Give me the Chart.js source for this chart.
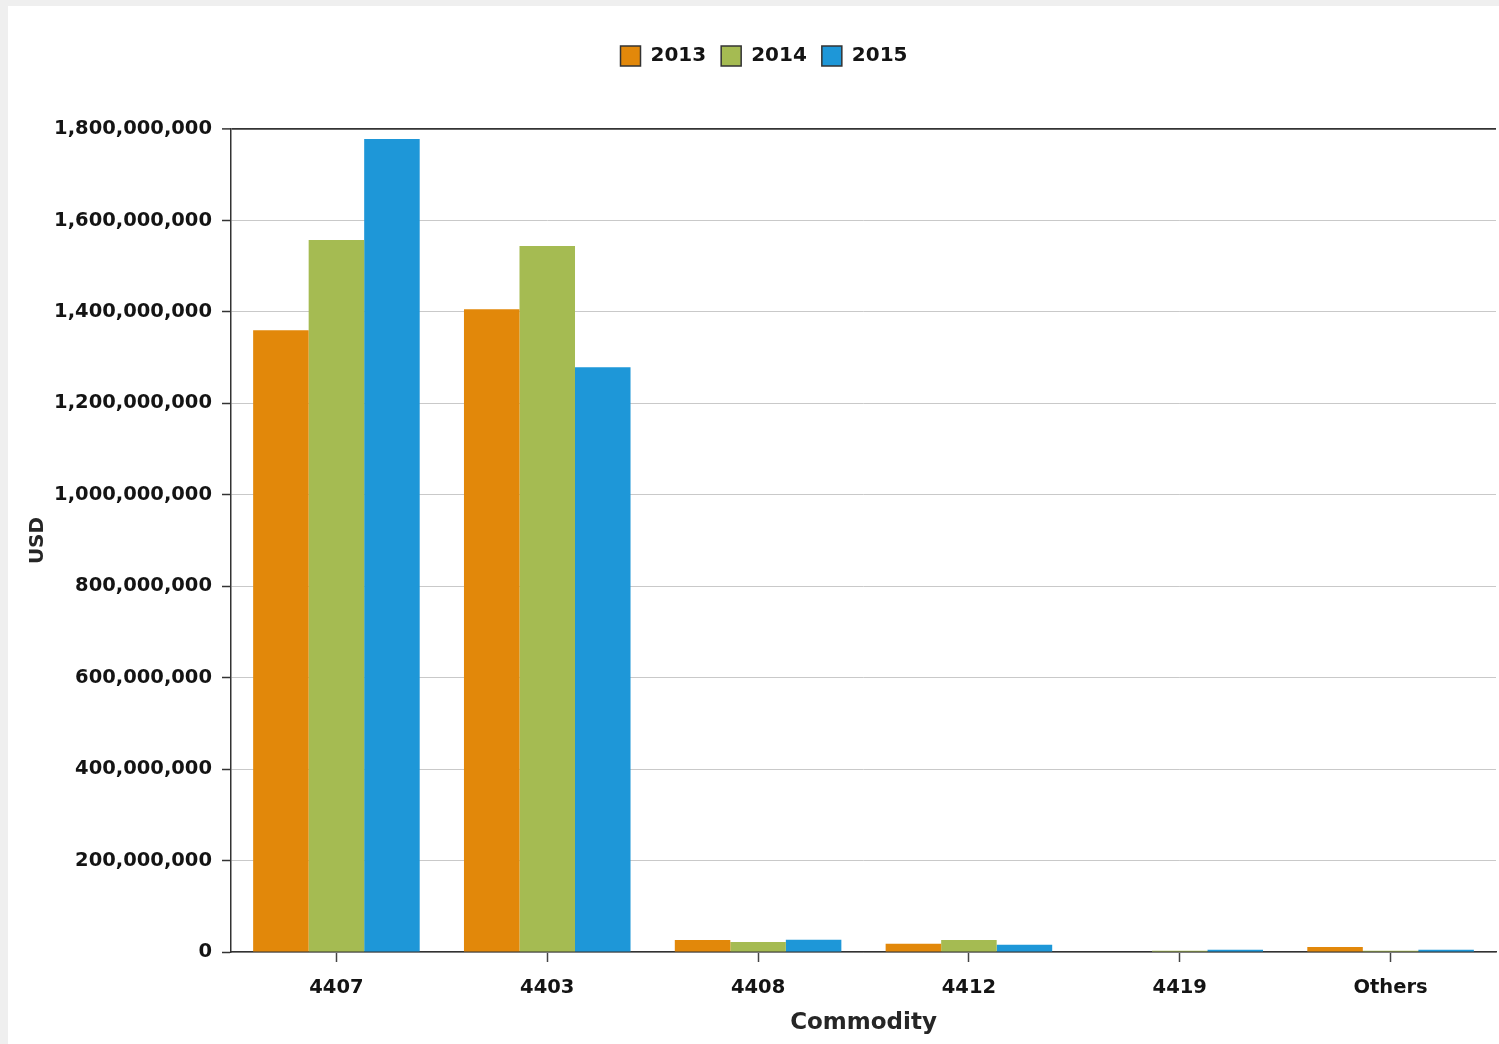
<!DOCTYPE html>
<html>
<head>
<meta charset="utf-8">
<title>Commodity exports, USD</title>
<script src="https://cdn.jsdelivr.net/npm/chart.js@4/dist/chart.umd.min.js"></script>
<style>
  html, body { margin: 0; padding: 0; background: #efefef; }
  #frame { position: absolute; left: 8px; top: 6px; width: 1491px; height: 1038px; background: #ffffff; }
  canvas { display: block; }
</style>
</head>
<body>
<div id="frame"><canvas id="chart" width="1491" height="1038"></canvas></div>
<script>
// Commodity codes shown along the x axis
const categories = ['4407', '4403', '4408', '4412', '4419', 'Others'];
// Series names
const years = ['2013', '2014', '2015'];
// Trade value per commodity, USD
const values2013 = [1360000000, 1406000000, 26000000, 18000000, 0, 11000000];
const values2014 = [1557000000, 1544000000, 22000000, 26000000, 3000000, 3000000];
const values2015 = [1778000000, 1279000000, 27000000, 16000000, 5000000, 5000000];
// Value axis range
const yMax = 1800000000;
const yStep = 200000000;

const seriesColors = ['#e2880a', '#a5bb52', '#1e97d8'];
const tickFont = { family: 'DejaVu Sans', weight: 'bold', size: 19.5 };

// Fixed legend band height so the plot starts at the same place every time
const legendBand = {
  id: 'legendBand',
  beforeInit(chart) {
    const legend = chart.legend;
    if (!legend || legend._bandPatched) return;
    const fit = legend.fit;
    legend.fit = function () { fit.call(this); this.height = 98; };
    legend._bandPatched = true;
  }
};

new Chart(document.getElementById('chart'), {
  type: 'bar',
  data: {
    labels: categories,
    datasets: [
      { label: years[0], data: values2013, backgroundColor: seriesColors[0] },
      { label: years[1], data: values2014, backgroundColor: seriesColors[1] },
      { label: years[2], data: values2015, backgroundColor: seriesColors[2] }
    ]
  },
  options: {
    responsive: false,
    devicePixelRatio: 1,
    animation: false,
    layout: { padding: { top: 25, left: 24, right: 3, bottom: 0 } },
    datasets: {
      bar: { categoryPercentage: 0.79, barPercentage: 1.0, borderWidth: 0 }
    },
    plugins: {
      tooltip: { enabled: false },
      legend: {
        position: 'top',
        labels: {
          font: { family: 'DejaVu Sans', weight: 'bold', size: 20 },
          color: '#141414',
          boxWidth: 20,
          boxHeight: 20,
          padding: 15,
          generateLabels(chart) {
            return Chart.defaults.plugins.legend.labels.generateLabels(chart).map(item => {
              item.strokeStyle = '#333333';
              item.lineWidth = 1.5;
              return item;
            });
          }
        }
      }
    },
    scales: {
      x: {
        grid: {
          offset: false,
          drawOnChartArea: false,
          drawTicks: true,
          tickLength: 10,
          tickColor: '#444444',
          tickWidth: 1.5
        },
        border: { color: '#333333', width: 1.5 },
        ticks: { font: tickFont, color: '#141414', padding: 14, maxRotation: 0, autoSkip: false },
        title: {
          display: true,
          text: 'Commodity',
          font: { family: 'DejaVu Sans', weight: 'bold', size: 23 },
          color: '#262626',
          padding: { top: 0, bottom: 7 }
        },
        afterFit(scale) { scale.height = 92; }
      },
      y: {
        min: 0,
        max: yMax,
        grid: {
          color: ctx => (ctx.tick && ctx.tick.value === yMax ? '#333333' : '#c9c9c9'),
          lineWidth: ctx => (ctx.tick && ctx.tick.value === yMax ? 1.8 : 1),
          tickLength: 9,
          tickColor: '#333333',
          tickWidth: 1.5
        },
        border: { color: '#333333', width: 1.5 },
        ticks: {
          stepSize: yStep,
          font: tickFont,
          color: '#141414',
          padding: 10,
          callback: value => Number(value).toLocaleString('en-US')
        },
        title: {
          display: true,
          text: 'USD',
          font: { family: 'DejaVu Sans', weight: 'bold', size: 20 },
          color: '#262626',
          padding: { top: -6, bottom: 0 }
        },
        afterFit(scale) { scale.width = 199; }
      }
    }
  },
  plugins: [legendBand]
});
</script>
</body>
</html>
